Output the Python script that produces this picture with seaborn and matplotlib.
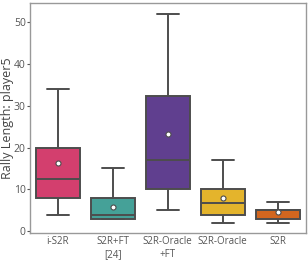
import seaborn as sns
import matplotlib.pyplot as plt
import pandas as pd

# five-number summaries per model (whisker low, Q1, median, Q3, whisker high)
models = ["i-S2R", "S2R+FT\n[24]", "S2R-Oracle\n+FT", "S2R-Oracle", "S2R"]
isr = [4, 8, 12.6, 20, 34]
s2r_ft = [3, 3, 4, 8, 15]
oracle_ft = [5, 10, 17, 32.4, 52]
oracle = [2, 4, 6.7, 10, 17]
s2r = [2, 3, 5, 5, 7]
means = [16.3, 5.9, 23.3, 7.9, 4.6]
colors = ["#d33f6e", "#45a198", "#603f8f", "#e4b42c", "#d2661f"]

rows = []
for m, vals in zip(models, [isr, s2r_ft, oracle_ft, oracle, s2r]):
    for v in vals:
        rows.append({"model": m, "len": v})
df = pd.DataFrame(rows)
df_mean = pd.DataFrame({"model": models, "len": means})

sns.set_style("white")
plt.rcParams["font.family"] = ["Open Sans", "DejaVu Sans"]

fig = plt.figure(figsize=(3.08, 2.6), dpi=100)
ax = fig.add_axes([0.097, 0.104, 0.897, 0.884])

line = dict(color="#4d4d4d", linewidth=1.4)
sns.boxplot(data=df, x="model", y="len", hue="model", palette=colors, legend=False,
            width=0.8, whis=1.5, saturation=1, ax=ax,
            boxprops=dict(edgecolor="#4d4d4d", linewidth=1.4),
            whiskerprops=line, capprops=line, medianprops=line)
sns.scatterplot(data=df_mean, x="model", y="len", ax=ax, color="white",
                edgecolor="#4d4d4d", linewidth=0.8, s=13, zorder=5)

ax.set_ylim(-0.4, 54.5)
ax.set_xlim(-0.51, 4.52)
ax.set_xlabel("")
ax.set_ylabel("Rally Length: player5", fontsize=9, color="#444444")
ax.yaxis.set_label_coords(-0.056, 0.5)
ax.set_yticks([0, 10, 20, 30, 40, 50])
ax.tick_params(axis="y", labelsize=7.5, colors="#555555", length=2, pad=1, left=True, width=0.8)
ax.tick_params(axis="x", labelsize=7, colors="#555555", length=0, pad=2)
for lbl in ax.get_xticklabels():
    lbl.set_linespacing(1.3)
for sp in ax.spines.values():
    sp.set_color("#999999")
    sp.set_linewidth(1)

fig.savefig("out.png", dpi=100)
